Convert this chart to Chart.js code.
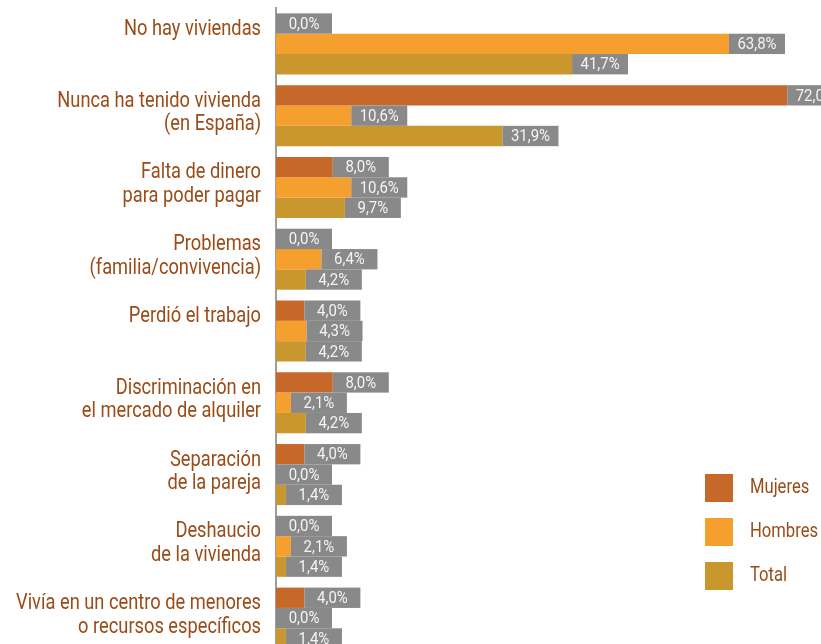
<!DOCTYPE html>
<html>
<head>
<meta charset="utf-8">
<script src="https://cdn.jsdelivr.net/npm/chart.js@4.4.1/dist/chart.umd.min.js"></script>
<style>
  html, body { margin: 0; padding: 0; overflow: hidden; background: #fff; }
  #wrap { width: 986px; height: 654px; }
</style>
</head>
<body>
<div id="wrap"><canvas id="chart" width="986" height="654"></canvas></div>
<script>
const categories = [
  ["No hay viviendas"],
  ["Nunca ha tenido vivienda", "(en España)"],
  ["Falta de dinero", "para poder pagar"],
  ["Problemas", "(familia/convivencia)"],
  ["Perdió el trabajo"],
  ["Discriminación en", "el mercado de alquiler"],
  ["Separación", "de la pareja"],
  ["Deshaucio", "de la vivienda"],
  ["Vivía en un centro de menores", "o recursos específicos"],
];
const seriesNames = ["Mujeres", "Hombres", "Total"];
const mujeres = [0.0, 72.0, 8.0, 0.0, 4.0, 8.0, 4.0, 0.0, 4.0];
const hombres = [63.8, 10.6, 10.6, 6.4, 4.3, 2.1, 0.0, 2.1, 0.0];
const total = [41.7, 31.9, 9.7, 4.2, 4.2, 4.2, 1.4, 1.4, 1.4];

const colors = ["#c6682a", "#f59f2e", "#ca972f"];
const textBrown = "#9a4b18";

const fmt = (v) => `${v.toFixed(1).replace(".", ",")}%`;

// Roboto squeezed sideways stands in for the condensed face of the original.
function condensedText(ctx, text, x, y, size, squeeze, align) {
  ctx.save();
  ctx.translate(x, y);
  ctx.scale(squeeze, 1);
  ctx.font = `${size}px Roboto`;
  ctx.textAlign = align;
  ctx.fillText(text, 0, 0);
  ctx.restore();
}

const valueBoxes = {
  id: "valueBoxes",
  afterDatasetsDraw(chart) {
    const { ctx } = chart;
    chart.data.datasets.forEach((ds, di) => {
      const meta = chart.getDatasetMeta(di);
      meta.data.forEach((bar, i) => {
        const h = bar.height;
        ctx.fillStyle = "#898989";
        ctx.fillRect(bar.x, bar.y - h / 2, 56, h);
        ctx.fillStyle = "#f4f4f4";
        ctx.textBaseline = "middle";
        condensedText(ctx, fmt(ds.data[i]), bar.x + 28, bar.y + 1, 17, 0.88, "center");
      });
    });
  },
};

const categoryLabels = {
  id: "categoryLabels",
  afterDraw(chart) {
    const { ctx } = chart;
    const y = chart.scales.y;
    ctx.fillStyle = textBrown;
    ctx.textBaseline = "alphabetic";
    categories.forEach((lines, i) => {
      const c = y.getPixelForValue(i);
      lines.forEach((line, li) => {
        condensedText(ctx, line, 261, c - 9 + li * 23.5, 22, 0.83, "right");
      });
    });
  },
};

const boxLegend = {
  id: "boxLegend",
  afterDraw(chart) {
    const { ctx } = chart;
    chart.data.datasets.forEach((ds, i) => {
      const top = 474 + i * 44;
      ctx.fillStyle = ds.backgroundColor;
      ctx.fillRect(705, top, 28, 28);
      ctx.fillStyle = textBrown;
      ctx.textBaseline = "alphabetic";
      condensedText(ctx, ds.label, 750, top + 18.5, 20, 0.83, "left");
    });
  },
};

Chart.defaults.font.family = "Roboto";

// eslint-disable-next-line no-new
new Chart(document.getElementById("chart"), {
  type: "bar",
  plugins: [valueBoxes, categoryLabels, boxLegend],
  data: {
    labels: categories,
    datasets: [
      { label: seriesNames[0], data: mujeres, backgroundColor: colors[0] },
      { label: seriesNames[1], data: hombres, backgroundColor: colors[1] },
      { label: seriesNames[2], data: total, backgroundColor: colors[2] },
    ],
  },
  options: {
    indexAxis: "y",
    responsive: false,
    animation: false,
    devicePixelRatio: 1,
    layout: { padding: { left: 276, top: 8, right: 0, bottom: 0 } },
    datasets: {
      bar: { barPercentage: 1, categoryPercentage: 0.85, borderWidth: 0 },
    },
    plugins: {
      legend: { display: false },
      tooltip: { enabled: false },
    },
    scales: {
      x: { display: false, min: 0, max: 100 },
      y: {
        ticks: { display: false },
        grid: { display: false, drawTicks: false, tickLength: 0 },
        border: { display: true, color: "#9d9d9d", width: 2 },
      },
    },
  },
});
</script>
</body>
</html>
